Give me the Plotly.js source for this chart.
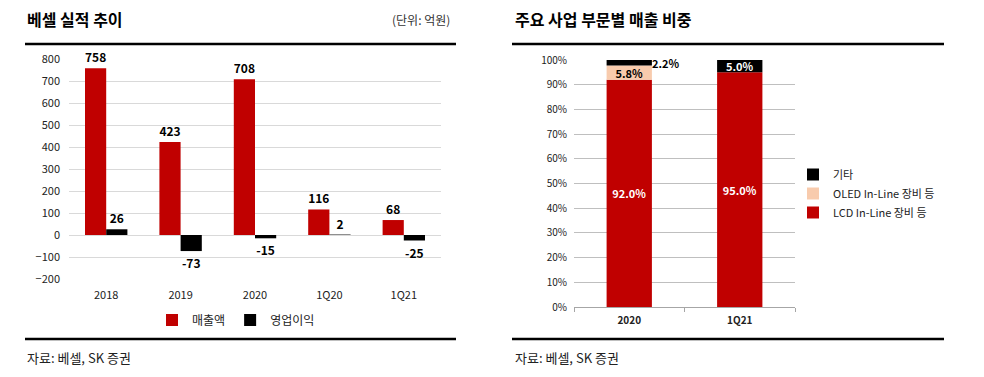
<!DOCTYPE html>
<html>
<head>
<meta charset="utf-8">
<script src="https://cdn.plot.ly/plotly-3.0.1.min.js"></script>
<style>html,body{margin:0;padding:0;background:#fff;}#chart{width:984px;height:377px;}</style>
</head>
<body>
<div id="chart"></div>
<script>
// ---- Data: left chart (베셀 실적 추이, 억원) ----
const periods = ['2018', '2019', '2020', '1Q20', '1Q21'];
const revenue = [758, 423, 708, 116, 68];
const opProfit = [26, -73, -15, 2, -25];

// ---- Data: right chart (주요 사업 부문별 매출 비중, %) ----
const mixPeriods = ['2020', '1Q21'];
const lcdShare = [92.0, 95.0];
const oledShare = [5.8, 0];
const etcShare = [2.2, 5.0];
const etcLabelInside = [false, true];

const W = 984, H = 377;
const px = x => x / W;
const py = y => 1 - y / H;
const FONT = '"Noto Sans CJK KR", "Noto Sans", sans-serif';

// left subplot geometry
const lx = [px(69), px(441)];
const ly = [py(279), py(59)];
const yMin = -200, yMax = 800;
const zeroPos = ly[0] + (0 - yMin) / (yMax - yMin) * (ly[1] - ly[0]);
// right subplot geometry
const rx = [px(574), px(795)];
const ry = [py(307), py(60)];

const bw = 0.285;
const rbw = 0.41;

const pct = v => v.toFixed(1) + '%';
const base2 = lcdShare;
const base3 = lcdShare.map((v, i) => v + oledShare[i]);

const traces = [
  {
    type: 'bar', name: '매출액', x: periods, y: revenue,
    xaxis: 'x', yaxis: 'y', width: bw, offset: -bw,
    marker: {color: '#C00000'},
    text: revenue.map(String), textposition: 'outside', cliponaxis: false,
    textfont: {family: FONT, size: 12, color: '#000', weight: 'bold'},
    legend: 'legend', hoverinfo: 'x+y'
  },
  {
    type: 'bar', name: '영업이익', x: periods, y: opProfit,
    xaxis: 'x', yaxis: 'y', width: bw, offset: 0,
    marker: {color: '#000000'},
    text: opProfit.map(String), textposition: 'outside', cliponaxis: false,
    textfont: {family: FONT, size: 12, color: '#000', weight: 'bold'},
    legend: 'legend', hoverinfo: 'x+y'
  },
  {
    type: 'bar', name: 'LCD In-Line 장비 등', x: mixPeriods, y: lcdShare,
    xaxis: 'x3', yaxis: 'y3', width: rbw, offset: -rbw / 2,
    marker: {color: '#C00000'},
    text: lcdShare.map(pct), textposition: 'inside', insidetextanchor: 'middle',
    constraintext: 'none',
    textfont: {family: FONT, size: 11, color: '#fff', weight: 'bold'},
    legend: 'legend2', hoverinfo: 'x+y'
  },
  {
    type: 'bar', name: 'OLED In-Line 장비 등', x: mixPeriods, y: oledShare, base: base2,
    xaxis: 'x3', yaxis: 'y3', width: rbw, offset: -rbw / 2,
    marker: {color: '#F8CBAD'},
    text: oledShare.map(v => v > 0 ? pct(v) : ''), textposition: 'inside', insidetextanchor: 'middle',
    constraintext: 'none',
    textfont: {family: FONT, size: 11, color: '#000', weight: 'bold'},
    legend: 'legend2', hoverinfo: 'x+y'
  },
  {
    type: 'bar', name: '기타', x: mixPeriods, y: etcShare, base: base3,
    xaxis: 'x3', yaxis: 'y3', width: rbw, offset: -rbw / 2,
    marker: {color: '#000000'},
    text: etcShare.map((v, i) => etcLabelInside[i] ? pct(v) : ''), textposition: 'inside', insidetextanchor: 'middle',
    constraintext: 'none',
    textfont: {family: FONT, size: 11, color: '#fff', weight: 'bold'},
    legend: 'legend2', hoverinfo: 'x+y'
  }
];

const annotations = [
  {xref: 'paper', yref: 'paper', x: px(25), y: py(19), xanchor: 'left', yanchor: 'middle', showarrow: false,
   text: '<b>베셀 실적 추이</b>', font: {family: FONT, size: 16, color: '#000'}},
  {xref: 'paper', yref: 'paper', x: px(452), y: py(20), xanchor: 'right', yanchor: 'middle', showarrow: false,
   text: '(단위: 억원)', font: {family: FONT, size: 12, color: '#333'}},
  {xref: 'paper', yref: 'paper', x: px(513), y: py(19), xanchor: 'left', yanchor: 'middle', showarrow: false,
   text: '<b>주요 사업 부문별 매출 비중</b>', font: {family: FONT, size: 16, color: '#000'}},
  {xref: 'paper', yref: 'paper', x: px(25), y: py(357), xanchor: 'left', yanchor: 'middle', showarrow: false,
   text: '자료: 베셀, SK 증권', font: {family: FONT, size: 13, color: '#222'}},
  {xref: 'paper', yref: 'paper', x: px(513), y: py(357), xanchor: 'left', yanchor: 'middle', showarrow: false,
   text: '자료: 베셀, SK 증권', font: {family: FONT, size: 13, color: '#222'}}
];
// outside label(s) for small 기타 segments (x given as category index)
mixPeriods.forEach((p, i) => {
  if (!etcLabelInside[i]) {
    annotations.push({xref: 'x3', yref: 'y3', x: i, y: base3[i] + etcShare[i] / 2,
      xshift: 37, xanchor: 'center', yanchor: 'middle', showarrow: false,
      text: '<b>' + pct(etcShare[i]) + '</b>', font: {family: FONT, size: 11, color: '#000'}});
  }
});

const shapes = [
  {type: 'line', xref: 'paper', yref: 'paper', x0: px(25), x1: px(456), y0: py(44), y1: py(44), line: {color: '#000', width: 2.5}},
  {type: 'line', xref: 'paper', yref: 'paper', x0: px(25), x1: px(456), y0: py(339), y1: py(339), line: {color: '#000', width: 2.5}},
  {type: 'line', xref: 'paper', yref: 'paper', x0: px(512), x1: px(944), y0: py(44), y1: py(44), line: {color: '#000', width: 2.5}},
  {type: 'line', xref: 'paper', yref: 'paper', x0: px(512), x1: px(944), y0: py(339), y1: py(339), line: {color: '#000', width: 2.5}}
];

const tickFont = {family: FONT, size: 11, color: '#222'};

const layout = {
  width: W, height: H,
  margin: {l: 0, r: 0, t: 0, b: 0},
  paper_bgcolor: '#fff', plot_bgcolor: 'rgba(0,0,0,0)',
  barmode: 'overlay',
  showlegend: true,
  font: {family: FONT},
  xaxis: {
    domain: lx, anchor: 'y', type: 'category', categoryarray: periods, range: [-0.5, 4.5],
    showgrid: false, showline: false, ticks: '', tickfont: tickFont, ticklabelstandoff: 8, fixedrange: true
  },
  xaxis2: {
    domain: lx, anchor: 'free', overlaying: 'x', position: zeroPos, type: 'linear', range: [-0.5, 4.5],
    tickmode: 'array', tickvals: [-0.5, 0.5, 1.5, 2.5, 3.5, 4.5], showticklabels: false,
    ticks: 'outside', ticklen: 4, tickcolor: '#a6a6a6', showline: true, linecolor: '#a6a6a6', linewidth: 1,
    showgrid: false, zeroline: false
  },
  yaxis: {
    domain: ly, anchor: 'x', range: [yMin, yMax], dtick: 100, tick0: 0,
    showgrid: true, gridcolor: '#d9d9d9', gridwidth: 1, zeroline: false, showline: false,
    ticks: '', tickfont: tickFont, ticklabelstandoff: 8
  },
  xaxis3: {
    domain: rx, anchor: 'y3', type: 'category', categoryarray: mixPeriods, range: [-0.5, 1.5],
    showgrid: false, showline: true, linecolor: '#a6a6a6', ticks: 'outside', tickson: 'boundaries',
    ticklen: 4, tickcolor: '#a6a6a6', tickfont: {family: FONT, size: 10, color: '#222', weight: 'bold'}, ticklabelstandoff: 4
  },
  yaxis3: {
    domain: ry, anchor: 'x3', range: [0, 100], dtick: 10, ticksuffix: '%',
    showgrid: true, gridcolor: '#bfbfbf', gridwidth: 1, zeroline: false, showline: false,
    ticks: '', tickfont: {family: FONT, size: 10, color: '#222'}, ticklabelstandoff: 6
  },
  legend: {
    orientation: 'h', x: px(236), xanchor: 'center', y: py(320), yanchor: 'middle',
    font: {family: FONT, size: 12, color: '#222'}, itemwidth: 30, bgcolor: 'rgba(0,0,0,0)'
  },
  legend2: {
    orientation: 'v', x: px(793), xanchor: 'left', y: py(160), yanchor: 'top', traceorder: 'reversed',
    font: {family: FONT, size: 11, color: '#222'}, itemwidth: 30, tracegroupgap: 0, bgcolor: 'rgba(0,0,0,0)'
  },
  annotations: annotations,
  shapes: shapes
};

Plotly.newPlot('chart', traces, layout, {displayModeBar: false, staticPlot: true});
</script>
</body>
</html>
